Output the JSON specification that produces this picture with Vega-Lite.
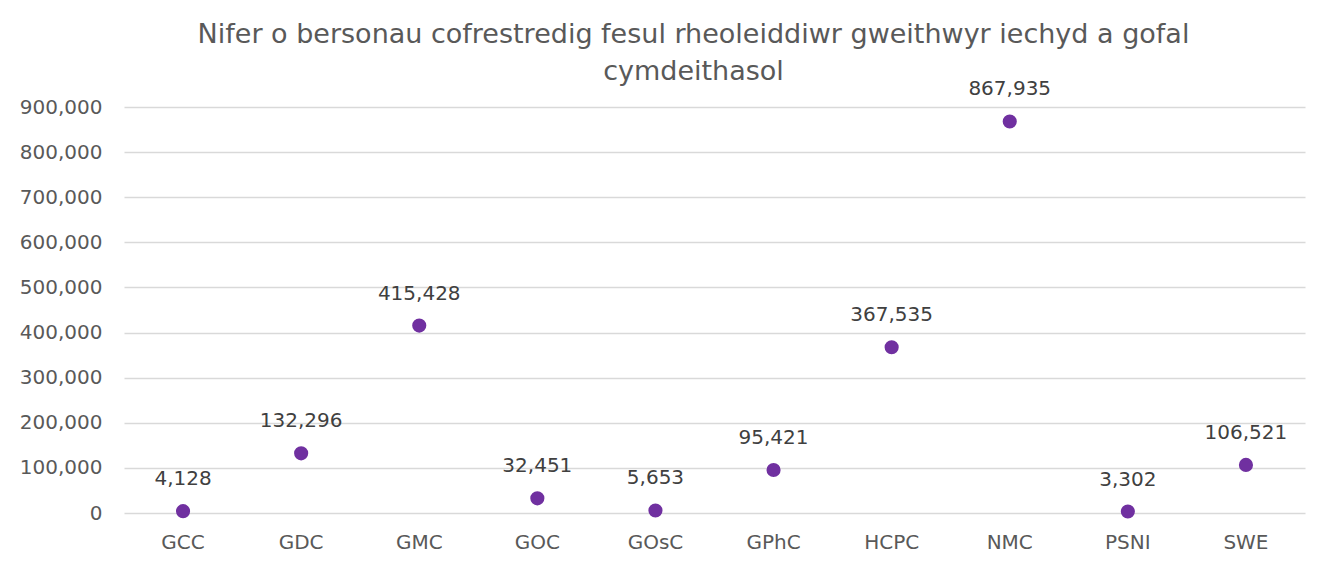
{
  "$schema": "https://vega.github.io/schema/vega-lite/v6.json",
  "autosize": {"type": "none"},
  "width": 1181,
  "height": 406,
  "padding": {"left": 124, "top": 107, "right": 24, "bottom": 55},
  "background": "white",
  "title": {
    "text": ["Nifer o bersonau cofrestredig fesul rheoleiddiwr gweithwyr iechyd a gofal", "cymdeithasol"],
    "font": "DejaVu Sans",
    "fontSize": 27,
    "fontWeight": "normal",
    "color": "#595959",
    "anchor": "middle",
    "dx": -21,
    "offset": -7,
    "lineHeight": 37
  },
  "data": {
    "values": [
      {"regulator": "GCC", "count": 4128},
      {"regulator": "GDC", "count": 132296},
      {"regulator": "GMC", "count": 415428},
      {"regulator": "GOC", "count": 32451},
      {"regulator": "GOsC", "count": 5653},
      {"regulator": "GPhC", "count": 95421},
      {"regulator": "HCPC", "count": 367535},
      {"regulator": "NMC", "count": 867935},
      {"regulator": "PSNI", "count": 3302},
      {"regulator": "SWE", "count": 106521}
    ]
  },
  "encoding": {
    "x": {
      "field": "regulator",
      "type": "nominal",
      "sort": null,
      "scale": {"type": "band", "paddingInner": 0, "paddingOuter": 0},
      "axis": {
        "title": null,
        "labelAngle": 0,
        "labelFont": "DejaVu Sans",
        "labelFontSize": 20,
        "labelColor": "#595959",
        "labelPadding": 19,
        "ticks": false,
        "domain": false,
        "grid": false
      }
    },
    "y": {
      "field": "count",
      "type": "quantitative",
      "scale": {"domain": [0, 900000], "nice": false, "zero": true},
      "axis": {
        "title": null,
        "values": [0, 100000, 200000, 300000, 400000, 500000, 600000, 700000, 800000, 900000],
        "format": ",.0f",
        "labelFont": "DejaVu Sans",
        "labelFontSize": 20,
        "labelColor": "#595959",
        "labelPadding": 22,
        "ticks": false,
        "domain": false,
        "grid": true,
        "gridColor": "#d9d9d9",
        "gridWidth": 1.3
      }
    }
  },
  "layer": [
    {
      "mark": {"type": "point", "filled": true, "size": 200, "color": "#7030A0", "opacity": 1}
    },
    {
      "mark": {"type": "text", "dy": -32, "font": "DejaVu Sans", "fontSize": 20, "color": "#404040"},
      "encoding": {"text": {"field": "count", "type": "quantitative", "format": ","}}
    }
  ],
  "config": {"view": {"stroke": null}}
}
